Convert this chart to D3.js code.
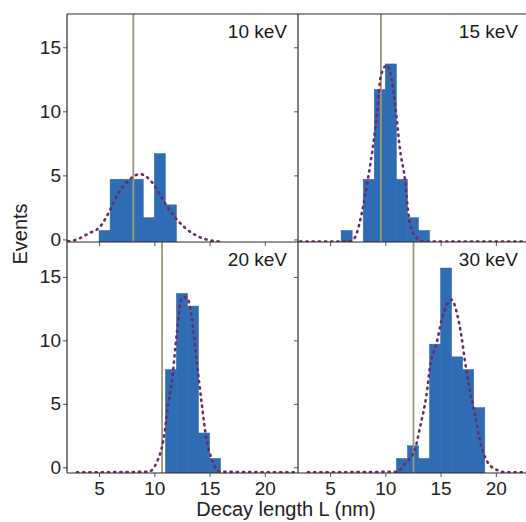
<!DOCTYPE html>
<html><head><meta charset="utf-8">
<script src="https://cdn.jsdelivr.net/npm/d3@7"></script>
<style>
html,body{margin:0;padding:0;background:#fff;}
text{font-family:"Liberation Sans",Arial,sans-serif;}
</style></head>
<body><svg id="c" width="526" height="522"></svg>
<script>
// ---- data ----
const panelLabels = ["10 keV", "15 keV", "20 keV", "30 keV"];
const xTicks = [5, 10, 15, 20];
const yTicks = [0, 5, 10, 15];
const xAxisTitle = "Decay length L (nm)";
const yAxisTitle = "Events";

// histogram bin starts (nm, 1 nm bins) and heights
const bins10 = [5, 6, 7, 8, 9, 10, 11];
const counts10 = [0.7, 4.7, 4.7, 4.7, 1.7, 6.7, 2.7];
const bins15 = [6, 7, 8, 9, 10, 11, 12, 13];
const counts15 = [0.7, 0, 4.7, 11.7, 13.7, 4.7, 1.7, 0.7];
const bins20 = [11, 12, 13, 14, 15];
const counts20 = [7.7, 13.7, 12.7, 2.7, 0.7];
const bins30 = [11, 12, 13, 14, 15, 16, 17, 18];
const counts30 = [0.7, 1.7, 0.7, 9.7, 15.7, 8.7, 7.7, 4.7];

// vertical marker positions (nm)
const markers = [8.1, 9.6, 10.7, 12.55];

// fitted curves, points [x, y]
const fit10 = [[2.2,-0.15],[3.0,0.0],[4.0,0.45],[5.1,1.0],[6.0,2.3],[6.74,3.6],[7.5,4.45],[8.7,5.1],[9.76,4.5],[10.8,3.05],[12.0,1.6],[13.5,0.45],[14.7,0.0],[15.9,-0.17]];
const fit15 = [[2.3,-0.17],[5.3,-0.17],[6.8,-0.15],[7.26,0.17],[7.87,2.05],[8.46,4.9],[8.92,7.5],[9.28,10.1],[9.58,12.7],[10.13,13.6],[10.58,12.5],[10.97,9.9],[11.33,7.0],[11.78,4.65],[12.08,2.05],[12.53,0.48],[13.44,-0.17],[22.9,-0.17]];
const fit20 = [[3.0,-0.4],[9.46,-0.35],[10.22,0.39],[10.81,2.1],[11.27,5.0],[11.66,7.3],[12.03,10.5],[12.48,13.3],[12.93,13.4],[13.38,11.8],[13.83,8.4],[14.29,5.0],[14.74,2.1],[15.19,0.66],[15.94,-0.35],[22.9,-0.4]];
const fit30 = [[3.0,-0.4],[11.0,-0.35],[11.8,0.3],[12.69,1.45],[13.14,3.16],[13.74,5.8],[14.04,7.9],[14.65,9.8],[15.1,11.6],[15.55,12.8],[16.0,13.2],[16.46,12.2],[16.91,10.2],[17.2,8.4],[17.66,6.0],[18.1,4.2],[18.56,2.1],[19.17,0.53],[19.92,-0.13],[20.98,-0.4],[22.9,-0.4]];

// ---- layout ----
const svg = d3.select("#c");
const L = 67, MID = 298, R = 529, T = 14, HMID = 242, B = 473;
const xDomain = [2.1, 23];
const panels = [
  {label: panelLabels[0], bins: bins10, counts: counts10, marker: markers[0], fit: fit10, x0: L, x1: MID, y0: T, y1: HMID, yd: [-0.2, 17.6], left: true, bottom: false},
  {label: panelLabels[1], bins: bins15, counts: counts15, marker: markers[1], fit: fit15, x0: MID, x1: R, y0: T, y1: HMID, yd: [-0.2, 17.6], left: false, bottom: false},
  {label: panelLabels[2], bins: bins20, counts: counts20, marker: markers[2], fit: fit20, x0: L, x1: MID, y0: HMID, y1: B, yd: [-0.45, 17.75], left: true, bottom: true},
  {label: panelLabels[3], bins: bins30, counts: counts30, marker: markers[3], fit: fit30, x0: MID, x1: R, y0: HMID, y1: B, yd: [-0.45, 17.75], left: false, bottom: true}
];

const axisColor = "#2b2b2b";
const FS = "19px";

panels.forEach(p => {
  const x = d3.scaleLinear().domain(xDomain).range([p.x0, p.x1]);
  const y = d3.scaleLinear().domain(p.yd).range([p.y1, p.y0]);
  const g = svg.append("g");
  const clipId = "clip" + p.label.replace(/\s/g, "");
  svg.append("clipPath").attr("id", clipId).append("rect")
    .attr("x", p.x0).attr("y", p.y0).attr("width", p.x1 - p.x0).attr("height", p.y1 - p.y0);
  const inner = g.append("g").attr("clip-path", `url(#${clipId})`);

  // bars
  inner.selectAll("rect.bar").data(p.bins.map((b, i) => ({b, c: p.counts[i]})).filter(d => d.c > 0))
    .join("rect").attr("class", "bar")
    .attr("x", d => x(d.b))
    .attr("width", d => x(d.b + 1) - x(d.b))
    .attr("y", d => y(d.c))
    .attr("height", d => y(p.yd[0]) - y(d.c))
    .attr("fill", "#2e6db4")
    .attr("stroke", "#2a64a8").attr("stroke-width", 0.5);

  // vertical marker
  inner.append("line")
    .attr("x1", x(p.marker)).attr("x2", x(p.marker))
    .attr("y1", p.y0).attr("y2", p.y1)
    .attr("stroke", "#9c9674").attr("stroke-width", 1.8);

  // fit curve
  const line = d3.line().x(d => x(d[0])).y(d => y(d[1])).curve(d3.curveMonotoneX);
  inner.append("path").attr("d", line(p.fit))
    .attr("fill", "none").attr("stroke", "#6c2a66").attr("stroke-width", 2.6)
    .attr("stroke-dasharray", "1.2,5").attr("stroke-linecap", "round");

  // axes
  const ax = d3.axisBottom(x).tickValues(xTicks).tickSize(4).tickPadding(5)
    .tickFormat(p.bottom ? d3.format("d") : () => "");
  const gx = g.append("g").attr("transform", `translate(0,${p.y1})`).call(ax);
  const ay = d3.axisLeft(y).tickValues(yTicks).tickSize(4).tickPadding(2)
    .tickFormat(p.left ? d3.format("d") : () => "");
  const gy = g.append("g").attr("transform", `translate(${p.x0},0)`).call(ay);
  [gx, gy].forEach(a => {
    a.select(".domain").remove();
    a.selectAll(".tick line").attr("stroke", "#555").attr("stroke-width", 1);
    a.selectAll(".tick text").attr("fill", "#222").style("font-size", FS)
      .style("font-family", "'Liberation Sans', Arial, sans-serif");
  });

  // panel label
  g.append("text").attr("x", p.x1 - 11).attr("y", p.y0 + 24)
    .attr("text-anchor", "end").attr("fill", "#1a1a1a")
    .style("font-size", FS).text(p.label);
});

// frame lines
const frame = svg.append("g").attr("stroke", axisColor).attr("stroke-width", 1.2).attr("fill", "none");
frame.append("line").attr("x1", L).attr("x2", R).attr("y1", T).attr("y2", T);
frame.append("line").attr("x1", L).attr("x2", R).attr("y1", HMID).attr("y2", HMID);
frame.append("line").attr("x1", L).attr("x2", R).attr("y1", B).attr("y2", B);
frame.append("line").attr("x1", L).attr("x2", L).attr("y1", T).attr("y2", B);
frame.append("line").attr("x1", MID).attr("x2", MID).attr("y1", T).attr("y2", B);
frame.append("line").attr("x1", R).attr("x2", R).attr("y1", T).attr("y2", B);

// axis titles
svg.append("text").attr("x", 286).attr("y", 516).attr("text-anchor", "middle")
  .attr("fill", "#222").style("font-size", "20px").text(xAxisTitle);
svg.append("text").attr("transform", "translate(27,234) rotate(-90)").attr("text-anchor", "middle")
  .attr("fill", "#222").style("font-size", "20px").text(yAxisTitle);
</script>
</body></html>
